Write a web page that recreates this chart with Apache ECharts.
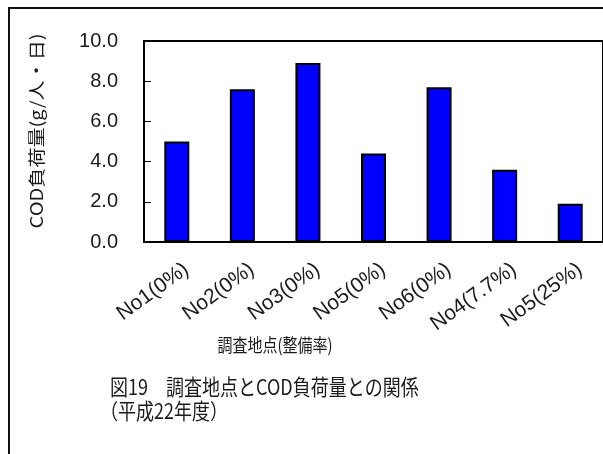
<!DOCTYPE html>
<html>
<head>
<meta charset="utf-8">
<script src="https://cdn.jsdelivr.net/npm/echarts@6.0.0/dist/echarts.min.js"></script>
<style>
  html, body { margin: 0; padding: 0; background: #fff; }
  #chart { width: 603px; height: 454px; }
</style>
</head>
<body>
<div id="chart"></div>
<script>
// 調査地点ごとの COD 負荷量 (g/人・日)
const sites = ['No1(0%)', 'No2(0%)', 'No3(0%)', 'No5(0%)', 'No6(0%)', 'No4(7.7%)', 'No5(25%)'];
const codLoad = [5.0, 7.6, 8.9, 4.4, 7.7, 3.6, 1.9];
const yTicks = [0, 2, 4, 6, 8, 10];
const yAxisTitle = 'COD負荷量(g/人・日)';
const xAxisTitle = '調査地点(整備率)';
const captionLines = ['図19　調査地点とCOD負荷量との関係', '（平成22年度）'];

const cjk = '"Noto Sans CJK JP", "Noto Sans CJK SC", sans-serif';
const latin = '"Liberation Sans", Arial, "Noto Sans CJK JP", sans-serif';
const ink = '#1a1a1a';

// Tall, narrow lettering for the titles: text nodes with a vertical stretch
function titleText(text, x, y, size, align, opts) {
  return Object.assign({
    type: 'text',
    x: x,
    y: y,
    silent: true,
    style: {
      text: text,
      font: size + 'px ' + cjk,
      fill: ink,
      align: align,
      verticalAlign: 'middle'
    }
  }, opts || {});
}

const chart = echarts.init(document.getElementById('chart'), null, { renderer: 'canvas' });

chart.setOption({
  backgroundColor: '#ffffff',
  animation: false,
  graphic: [
    {
      type: 'rect',
      shape: { x: 9, y: 8, width: 700, height: 700 },
      style: { fill: 'none', stroke: '#111', lineWidth: 2 },
      silent: true
    },
    // y-axis title, reading bottom to top
    titleText(yAxisTitle, 37, 131, 17, 'center', { rotation: Math.PI / 2, scaleX: 1.18 }),
    // x-axis title
    titleText(xAxisTitle, 275, 345, 15, 'center', { scaleY: 1.22 }),
    // figure caption
    titleText(captionLines[0], 110, 387, 18, 'left', { scaleY: 1.18 }),
    titleText(captionLines[1], 100, 411, 18, 'left', { scaleY: 1.18 })
  ],
  grid: {
    left: 144,
    top: 41,
    width: 462,
    height: 201,
    show: true,
    borderColor: '#000',
    borderWidth: 2,
    backgroundColor: 'transparent'
  },
  xAxis: {
    type: 'category',
    data: sites,
    axisLine: { lineStyle: { color: '#000', width: 2 } },
    axisTick: { inside: true, length: 8, lineStyle: { color: '#000', width: 1 } },
    axisLabel: {
      rotate: 36,
      margin: 12,
      verticalAlign: 'top',
      padding: [6, 0, 0, 0],
      fontFamily: latin,
      fontSize: 21,
      color: ink,
      interval: 0
    },
    splitLine: { show: false }
  },
  yAxis: {
    type: 'value',
    min: yTicks[0],
    max: yTicks[yTicks.length - 1],
    interval: 2,
    axisLine: { show: true, lineStyle: { color: '#000', width: 2 } },
    axisTick: { show: true, inside: true, length: 7, lineStyle: { color: '#000', width: 1 } },
    axisLabel: {
      margin: 26,
      fontFamily: latin,
      fontSize: 20,
      color: ink,
      formatter: v => v.toFixed(1)
    },
    splitLine: { show: false }
  },
  series: [{
    type: 'bar',
    data: codLoad,
    barWidth: 25,
    itemStyle: {
      color: '#0000ff',
      borderColor: '#000',
      borderWidth: 2
    }
  }]
});
</script>
</body>
</html>
